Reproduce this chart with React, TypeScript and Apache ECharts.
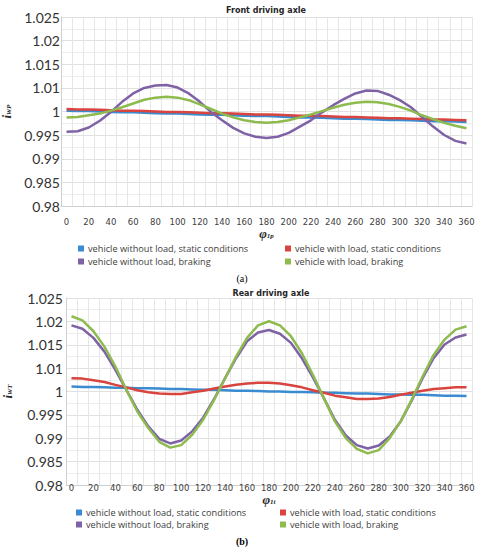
import React, { useEffect, useRef } from "react";
import * as echarts from "echarts";

const angles = ["0","10","20","30","40","50","60","70","80","90","100","110","120","130","140","150","160","170","180","190","200","210","220","230","240","250","260","270","280","290","300","310","320","330","340","350","360"];
const yTickLabels = ["0.98","0.985","0.99","0.995","1","1.01","1.015","1.02","1.025"];
const seriesNames = [
  "vehicle without load, static conditions",
  "vehicle with load, static conditions",
  "vehicle without load, braking",
  "vehicle with load, braking",
];
const colors = ["#3B8BD0", "#D9443F", "#7F62A6", "#8DBB4E"];

const frontNoLoadStatic = [1.0027,1.0026,1.0026,1.0025,1.0024,1.0023,1.0023,1.0022,1.0021,1.0020,1.0020,1.0019,1.0018,1.0017,1.0017,1.0016,1.0015,1.0014,1.0014,1.0013,1.0012,1.0011,1.0011,1.0010,1.0009,1.0008,1.0008,1.0007,1.0006,1.0005,1.0005,1.0004,1.0003,1.0002,1.0002,1.0001,1.0000];
const frontLoadStatic = [1.0031,1.0030,1.0030,1.0029,1.0028,1.0027,1.0027,1.0026,1.0025,1.0024,1.0024,1.0023,1.0022,1.0021,1.0021,1.0020,1.0019,1.0018,1.0018,1.0017,1.0016,1.0015,1.0015,1.0014,1.0013,1.0012,1.0012,1.0011,1.0010,1.0009,1.0009,1.0008,1.0007,1.0006,1.0006,1.0005,1.0004];
const frontNoLoadBraking = [0.9977,0.9978,0.9987,1.0003,1.0024,1.0048,1.0068,1.0081,1.0087,1.0088,1.0082,1.0068,1.0048,1.0024,1.0004,0.9986,0.9973,0.9965,0.9962,0.9965,0.9974,0.9989,1.0004,1.0023,1.0040,1.0055,1.0068,1.0075,1.0074,1.0065,1.0052,1.0035,1.0012,0.9989,0.9969,0.9955,0.9949];
const frontLoadBraking = [1.0011,1.0012,1.0016,1.0020,1.0027,1.0035,1.0044,1.0053,1.0058,1.0060,1.0058,1.0052,1.0042,1.0031,1.0020,1.0011,1.0004,1.0000,0.9998,1.0000,1.0004,1.0011,1.0018,1.0026,1.0034,1.0041,1.0046,1.0048,1.0047,1.0043,1.0036,1.0027,1.0016,1.0007,0.9998,0.9991,0.9985];

const rearNoLoadStatic = [1.0037,1.0036,1.0036,1.0035,1.0034,1.0034,1.0033,1.0033,1.0032,1.0031,1.0031,1.0030,1.0029,1.0029,1.0028,1.0027,1.0027,1.0026,1.0025,1.0025,1.0024,1.0024,1.0023,1.0022,1.0022,1.0021,1.0020,1.0020,1.0019,1.0018,1.0018,1.0017,1.0017,1.0016,1.0015,1.0015,1.0014];
const rearLoadStatic = [1.0057,1.0056,1.0052,1.0048,1.0041,1.0035,1.0028,1.0023,1.0020,1.0019,1.0019,1.0023,1.0027,1.0032,1.0037,1.0041,1.0044,1.0046,1.0046,1.0044,1.0040,1.0035,1.0028,1.0022,1.0015,1.0011,1.0007,1.0007,1.0008,1.0012,1.0017,1.0022,1.0027,1.0031,1.0033,1.0035,1.0035];
const rearNoLoadBraking = [1.0184,1.0176,1.0154,1.0121,1.0077,1.0029,0.9981,0.9941,0.9911,0.9900,0.9907,0.9929,0.9962,1.0007,1.0057,1.0105,1.0146,1.0167,1.0173,1.0164,1.0142,1.0105,1.0059,1.0009,0.9957,0.9919,0.9896,0.9888,0.9895,0.9917,0.9953,1.0003,1.0057,1.0105,1.0138,1.0155,1.0162];
const rearLoadBraking = [1.0206,1.0196,1.0170,1.0133,1.0085,1.0029,0.9977,0.9937,0.9904,0.9890,0.9896,0.9921,0.9957,1.0005,1.0057,1.0109,1.0154,1.0184,1.0194,1.0184,1.0158,1.0117,1.0065,1.0009,0.9953,0.9913,0.9887,0.9876,0.9884,0.9913,0.9953,1.0005,1.0061,1.0113,1.0150,1.0174,1.0182];

const frontData = [frontNoLoadStatic, frontLoadStatic, frontNoLoadBraking, frontLoadBraking];
const rearData = [rearNoLoadStatic, rearLoadStatic, rearNoLoadBraking, rearLoadBraking];

const Y_MIN = 0.98;
const Y_MAX = 1.025;
const Y_STEP = (Y_MAX - Y_MIN) / (yTickLabels.length - 1);

function App() {
  const ref = useRef<HTMLDivElement>(null);

  useEffect(() => {
    if (!ref.current) return;
    const chart = echarts.init(ref.current, undefined, { renderer: "svg" });

    const labelFont = "Lato";
    const smallFont = "DejaVu Sans";

    const nameRich = {
      a: { fontSize: 13, fontStyle: "italic", fontWeight: "bold", fontFamily: "Liberation Serif", color: "#262626" },
      b: { fontSize: 7, fontStyle: "italic", fontWeight: "bold", fontFamily: "Liberation Serif", color: "#262626", padding: [5, 0, 0, 0] },
    };

    const makeX = (gridIndex: number, margin: number, nameSub: string, nameGap: number) => ({
      type: "category",
      gridIndex,
      data: angles,
      boundaryGap: true,
      axisTick: { show: false },
      axisLine: { show: true, lineStyle: { color: "#d0d0d0", width: 1 } },
      axisLabel: {
        interval: 1,
        margin,
        fontSize: 8.5,
        fontFamily: smallFont,
        color: "#404040",
      },
      splitLine: { show: true, interval: 0, lineStyle: { color: "#e6e6e6", width: 1 } },
      name: "{a|φ}{b|" + nameSub + "}",
      nameLocation: "middle",
      nameGap,
      nameTextStyle: { rich: nameRich },
    });

    const makeY = (gridIndex: number, margin: number, nameSub: string, nameGap: number) => ({
      type: "value",
      gridIndex,
      min: Y_MIN,
      max: Y_MAX,
      interval: Y_STEP,
      axisLine: { show: true, lineStyle: { color: "#d0d0d0" } },
      axisTick: { show: false },
      axisLabel: {
        margin,
        fontSize: 14,
        fontFamily: labelFont,
        color: "#333333",
        formatter: (v: number) => {
          const idx = Math.round((v - Y_MIN) / Y_STEP);
          return yTickLabels[idx] ?? "";
        },
      },
      splitLine: { show: true, lineStyle: { color: "#e0e0e0", width: 1 } },
      minorTick: { show: false, splitNumber: 2 },
      minorSplitLine: { show: true, lineStyle: { color: "#ededed", width: 1 } },
      name: "{a|i}{b|" + nameSub + "}",
      nameLocation: "middle",
      nameGap,
      nameRotate: 90,
      nameTextStyle: { rich: nameRich },
    });

    const series: any[] = [];
    frontData.forEach((d, i) => {
      series.push({
        type: "line",
        name: seriesNames[i],
        xAxisIndex: 0,
        yAxisIndex: 0,
        data: d,
        showSymbol: false,
        lineStyle: { width: 2.5, color: colors[i] },
        itemStyle: { color: colors[i] },
      });
    });
    rearData.forEach((d, i) => {
      series.push({
        type: "line",
        name: seriesNames[i],
        xAxisIndex: 1,
        yAxisIndex: 1,
        data: d,
        showSymbol: false,
        lineStyle: { width: 2.5, color: colors[i] },
        itemStyle: { color: colors[i] },
      });
    });

    const legendPos = [
      { left: 78, top: 244 },
      { left: 285, top: 244 },
      { left: 78, top: 257 },
      { left: 285, top: 257 },
      { left: 76, top: 508 },
      { left: 280, top: 508 },
      { left: 76, top: 520 },
      { left: 280, top: 520 },
    ];
    const legends = legendPos.map((p, k) => ({
      data: [seriesNames[k % 4]],
      left: p.left,
      top: p.top,
      icon: "rect",
      itemWidth: 6,
      itemHeight: 6,
      padding: 0,
      selectedMode: false,
      textStyle: { fontSize: 9.2, fontFamily: "Open Sans", color: "#404040", padding: [0, 0, 0, -1] },
    }));

    chart.setOption({
      animation: false,
      backgroundColor: "#ffffff",
      grid: [
        { left: 61, top: 17, width: 411, height: 189, containLabel: false, outerBoundsMode: "none" },
        { left: 66, top: 298, width: 406, height: 187, containLabel: false, outerBoundsMode: "none" },
      ],
      xAxis: [makeX(0, 11, "1p", 20), makeX(1, -2, "1t", 6)],
      yAxis: [makeY(0, 1, "WP", 47), makeY(1, 3, "WT", 52)],
      legend: legends,
      series,
      graphic: [
        {
          type: "text",
          x: 266,
          y: 10,
          z: 100,
          style: { text: "Front driving axle", align: "center", verticalAlign: "middle", fontSize: 8, fontWeight: "bold", fontFamily: smallFont, fill: "#262626" },
        },
        {
          type: "text",
          x: 271,
          y: 293,
          z: 100,
          style: { text: "Rear driving axle", align: "center", verticalAlign: "middle", fontSize: 8, fontWeight: "bold", fontFamily: smallFont, fill: "#262626" },
        },
        {
          type: "text",
          x: 242,
          y: 278,
          style: { text: "(a)", align: "center", verticalAlign: "middle", fontSize: 10, fontFamily: "Liberation Serif", fill: "#000000" },
        },
        {
          type: "text",
          x: 242,
          y: 541,
          style: { text: "(b)", align: "center", verticalAlign: "middle", fontSize: 10, fontWeight: "bold", fontFamily: "Liberation Serif", fill: "#000000" },
        },
      ],
    });

    return () => {
      chart.dispose();
    };
  }, []);

  return (
    <div
      ref={ref}
      style={{ position: "absolute", left: 0, top: 0, width: 484, height: 550, background: "#fff" }}
    />
  );
}

export default App;
